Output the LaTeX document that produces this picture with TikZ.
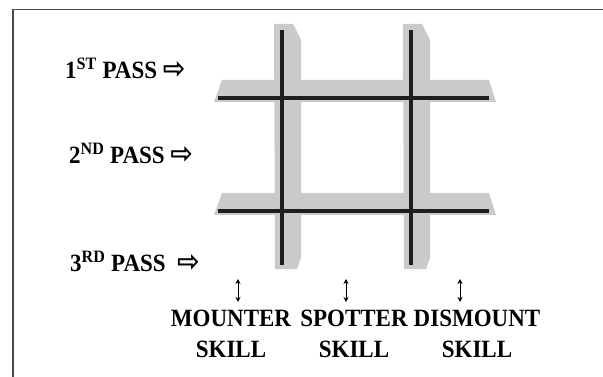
\documentclass[tikz,border=0pt]{standalone}
\usepackage{fontspec}
\setmainfont{Liberation Serif}
\newfontfamily\arrowfont{DejaVu Sans}
\usetikzlibrary{arrows.meta}
\definecolor{bandgray}{HTML}{CACACA}
\definecolor{linedark}{HTML}{1E1E1E}
\definecolor{framegray}{HTML}{4A4A4A}
\newcommand{\passarrow}{{\arrowfont\fontsize{27}{27}\selectfont ⇨}}
\tikzset{
  band/.style={fill=bandgray},
  gridline/.style={draw=linedark, line width=3.8pt},
  label/.style={font=\bfseries\fontsize{23}{29}\selectfont, inner sep=0pt, yscale=1.08},
  updown/.style={thick, {Stealth[length=5pt,width=5pt]}-{Stealth[length=5pt,width=5pt]}}
}
\begin{document}
\begin{tikzpicture}[x=1pt, y=-1pt]
  \useasboundingbox (0,0) rectangle (603,377);
  % Frame
  \draw [framegray, line width=1.2pt] (13,377) -- (13,9.5) -- (603,9.5);
  % Shadow bands
  \foreach \y in {98,211}
    \fill [band] (214,\y+4) -- (222,\y-18) -- (489,\y-18) -- (496,\y+4) -- cycle;
  \foreach \x in {282,411}
    \fill [band] (\x-8,24) -- (\x+11,24) -- (\x+19,40) -- (\x+19,258) -- (\x+15,269) -- (\x-7,269) -- cycle;
  % Grid lines
  \foreach \y in {98,211}
    \draw [gridline] (218,\y) -- (489,\y);
  \foreach \x in {282,411}
    \draw [gridline] (\x,30) -- (\x,265);
  % Passes
  \node [label, anchor=base west] (pass1) at (65,79) {1\textsuperscript{ST} PASS \passarrow};
  \node [label, anchor=base west] (pass2) at (69,164) {2\textsuperscript{ND} PASS \passarrow};
  \node [label, anchor=base west] (pass3) at (70,272) {3\textsuperscript{RD} PASS\ \ \passarrow};
  % Skills
  \node [label, align=center, anchor=north] (mounter) at (231,310) {MOUNTER\\SKILL};
  \node [label, align=center, anchor=north] (spotter) at (354,310) {SPOTTER\\SKILL};
  \node [label, align=center, anchor=north] (dismount) at (477,310) {DISMOUNT\\SKILL};
  \coordinate (m1) at (238,279);
  \coordinate (s1) at (346,279);
  \coordinate (d1) at (460,279);
  \draw [updown] (m1) -- (m1 |- 0,302);
  \draw [updown] (s1) -- (s1 |- 0,302);
  \draw [updown] (d1) -- (d1 |- 0,302);
\end{tikzpicture}
\end{document}
